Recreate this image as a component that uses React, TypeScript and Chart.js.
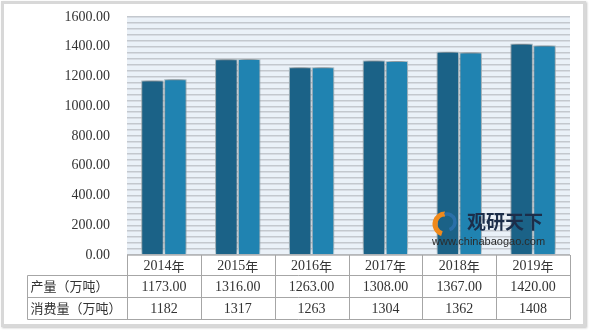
import React, { useEffect, useRef } from "react";
import { Chart, registerables } from "chart.js";

Chart.register(...registerables);

const categories = ["2014年", "2015年", "2016年", "2017年", "2018年", "2019年"];
const productionLabel = "产量（万吨）";
const consumptionLabel = "消费量（万吨）";
const production = [1173, 1316, 1263, 1308, 1367, 1420];
const consumption = [1182, 1317, 1263, 1304, 1362, 1408];
const productionText = ["1173.00", "1316.00", "1263.00", "1308.00", "1367.00", "1420.00"];
const consumptionText = ["1182", "1317", "1263", "1304", "1362", "1408"];
const yMax = 1600;
const yLabelStep = 200;
const yLineStep = 40;

const NUM_FONT = '14px "Liberation Serif", "DejaVu Serif", serif';
const CJK_FONT = '13px "Noto Sans CJK SC", sans-serif';
const TEXT = "#333333";
const LINE = "#a6a6a6";

const bgPlugin = {
  id: "bg",
  beforeDraw(chart: any) {
    const { ctx, chartArea } = chart;
    ctx.save();
    ctx.fillStyle = "#eaf1f8";
    ctx.fillRect(chartArea.left, chartArea.top, chartArea.right - chartArea.left, chartArea.bottom - chartArea.top);
    ctx.restore();
  },
};

const shadowPlugin = {
  id: "shadow",
  beforeDatasetsDraw(chart: any) {
    const ctx = chart.ctx;
    ctx.save();
    ctx.shadowColor = "rgba(0,0,0,0.55)";
    ctx.shadowBlur = 7;
    ctx.shadowOffsetX = 0;
    ctx.shadowOffsetY = -2;
  },
  afterDatasetsDraw(chart: any) {
    chart.ctx.restore();
  },
};

const watermarkPlugin = {
  id: "watermark",
  afterDatasetsDraw(chart: any) {
    const { ctx, chartArea } = chart;
    const x0 = chartArea.right - 139;
    const y0 = chartArea.bottom - 43;
    ctx.save();
    ctx.lineWidth = 5;
    ctx.strokeStyle = "#f08a1c";
    ctx.beginPath();
    ctx.arc(x0 + 14, y0 + 12, 10, Math.PI * 0.6, Math.PI * 1.5);
    ctx.stroke();
    ctx.strokeStyle = "#2a6fa8";
    ctx.lineWidth = 3.5;
    ctx.beginPath();
    ctx.arc(x0 + 16, y0 + 10, 8, Math.PI * 1.4, Math.PI * 0.4);
    ctx.stroke();
    ctx.fillStyle = "#1c2e4a";
    ctx.font = 'bold 19px "Noto Sans CJK SC", sans-serif';
    ctx.textBaseline = "middle";
    ctx.textAlign = "left";
    ctx.fillText("观研天下", x0 + 36, y0 + 10);
    ctx.fillStyle = "#2b2b2b";
    ctx.font = '11px "Liberation Sans", Arial, sans-serif';
    ctx.fillText("www.chinabaogao.com", x0 + 1, y0 + 30);
    ctx.restore();
  },
};

const tablePlugin = {
  id: "table",
  afterDraw(chart: any) {
    const { ctx, chartArea } = chart;
    const xs = chart.scales.x;
    const { left, right, bottom } = chartArea;
    const n = categories.length;
    const labelLeft = 27.5;
    const r1 = bottom + 20;
    const r2 = bottom + 42;
    const r3 = bottom + 64;
    ctx.save();
    ctx.strokeStyle = LINE;
    ctx.lineWidth = 1;
    ctx.beginPath();
    ctx.moveTo(left, bottom);
    ctx.lineTo(right, bottom);
    [r1, r2, r3].forEach((y) => {
      ctx.moveTo(labelLeft, Math.round(y) + 0.5);
      ctx.lineTo(right, Math.round(y) + 0.5);
    });
    ctx.moveTo(labelLeft, Math.round(r1) + 0.5);
    ctx.lineTo(labelLeft, Math.round(r3) + 0.5);
    const bounds: number[] = [left];
    for (let i = 0; i < n - 1; i++) {
      bounds.push((xs.getPixelForValue(i) + xs.getPixelForValue(i + 1)) / 2);
    }
    bounds.push(right);
    bounds.forEach((bx) => {
      const px = Math.round(bx) + 0.5;
      ctx.moveTo(px, bottom);
      ctx.lineTo(px, Math.round(r3) + 0.5);
    });
    ctx.stroke();

    ctx.fillStyle = TEXT;
    ctx.textBaseline = "middle";
    ctx.textAlign = "center";
    for (let i = 0; i < n; i++) {
      const cx = xs.getPixelForValue(i);
      const m = categories[i].match(/^(\d+)(.*)$/);
      if (m) {
        ctx.font = NUM_FONT;
        const w1 = ctx.measureText(m[1]).width;
        ctx.font = CJK_FONT;
        const w2 = ctx.measureText(m[2]).width;
        const sx = cx - (w1 + w2) / 2;
        ctx.textAlign = "left";
        ctx.font = NUM_FONT;
        ctx.fillText(m[1], sx, (bottom + r1) / 2 + 1);
        ctx.font = CJK_FONT;
        ctx.fillText(m[2], sx + w1, (bottom + r1) / 2 + 1);
        ctx.textAlign = "center";
      }
      ctx.font = NUM_FONT;
      ctx.fillText(productionText[i], cx, (r1 + r2) / 2 + 1);
      ctx.fillText(consumptionText[i], cx, (r2 + r3) / 2 + 1);
    }
    ctx.textAlign = "left";
    ctx.font = CJK_FONT;
    ctx.fillText(productionLabel, labelLeft + 3, (r1 + r2) / 2);
    ctx.fillText(consumptionLabel, labelLeft + 3, (r2 + r3) / 2);
    ctx.restore();
  },
};

export default function App() {
  const ref = useRef<HTMLCanvasElement>(null);
  useEffect(() => {
    if (!ref.current) return;
    const chart = new Chart(ref.current, {
      type: "bar",
      data: {
        labels: categories,
        datasets: [
          {
            label: productionLabel,
            data: production,
            backgroundColor: "#1b6287",
            borderColor: "#c9dfea",
            borderWidth: 1,
            categoryPercentage: 0.62,
            barPercentage: 0.98,
          },
          {
            label: consumptionLabel,
            data: consumption,
            backgroundColor: "#2083b1",
            borderColor: "#d2e6f0",
            borderWidth: 1,
            categoryPercentage: 0.62,
            barPercentage: 0.98,
          },
        ],
      },
      options: {
        animation: false,
        responsive: false,
        maintainAspectRatio: false,
        layout: { padding: { top: 17, right: 19, bottom: 75, left: 0 } },
        plugins: { legend: { display: false }, tooltip: { enabled: false } },
        scales: {
          x: { display: false },
          y: {
            min: 0,
            max: yMax,
            border: { display: false },
            grid: { color: "#c3c8ce", lineWidth: 1.5, drawTicks: false },
            afterFit: (s: any) => {
              s.width = 127;
              s.paddingTop = 0;
              s.paddingBottom = 0;
            },
            ticks: {
              stepSize: yLineStep,
              autoSkip: false,
              padding: 17,
              color: TEXT,
              font: { family: '"Liberation Serif", "DejaVu Serif", serif', size: 14 },
              callback: (v: any) => (Number(v) % yLabelStep === 0 ? Number(v).toFixed(2) : ""),
            },
          },
        },
      },
      plugins: [bgPlugin, shadowPlugin, watermarkPlugin, tablePlugin],
    });
    return () => chart.destroy();
  }, []);
  return (
    <div style={{ position: "fixed", left: 0, top: 0, width: 589, height: 330, background: "#ffffff" }}>
      <div
        style={{
          position: "absolute",
          left: 1,
          top: 1,
          width: 579,
          height: 320,
          border: "3px solid #d8d8d8",
          boxShadow: "1px 1px 2px #c4c4c4",
          background: "#ffffff",
        }}
      />
      <canvas ref={ref} width={589} height={330} style={{ position: "absolute", left: 0, top: 0 }} />
    </div>
  );
}
